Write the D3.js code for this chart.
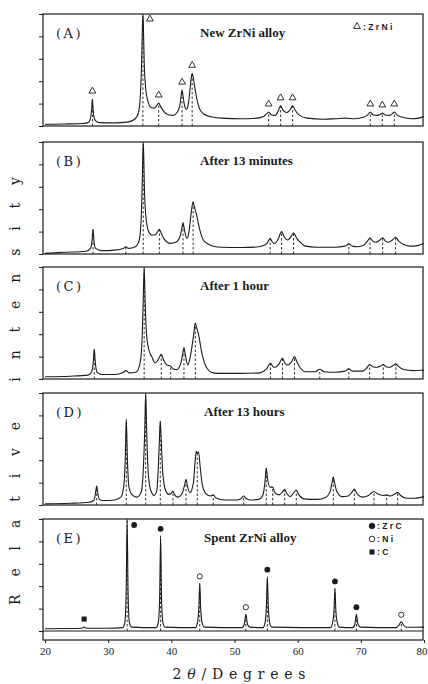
<!DOCTYPE html>
<html>
<head>
<meta charset="utf-8">
<script src="https://cdn.jsdelivr.net/npm/d3@7"></script>
<style>
  body { margin: 0; background: #fff; }
  svg { display: block; }
</style>
</head>
<body>
<div id="container"></div>
<script>
/* DATA (2theta in degrees, intensity in % of panel height) */
const panelLetters = ["(A)", "(B)", "(C)", "(D)", "(E)"];
const panelTitles = ["New ZrNi alloy", "After 13 minutes", "After 1 hour", "After 13 hours", "Spent ZrNi alloy"];
const xTicks = [20, 30, 40, 50, 60, 70, 80];

const profileA = [[20,1.5],[23,1.8],[26,2.2],[26.8,3],[27.1,5],[27.3,10],[27.42,18],[27.5,24],[27.58,18],[27.7,10],[27.95,5],[28.6,3],[31,2.8],[33,3.5],[34.2,6],[34.8,12],[35.1,28],[35.3,58],[35.42,88],[35.5,100],[35.58,88],[35.7,58],[35.9,36],[36.3,22],[36.8,16.5],[37.3,16],[37.7,18.5],[38.0,20.5],[38.3,17.5],[38.8,13],[39.5,10],[40.3,9.5],[40.9,12],[41.3,17],[41.55,27],[41.7,32],[41.85,27],[42.1,18],[42.4,15],[42.7,20],[43.0,35],[43.2,45],[43.3,47],[43.45,44],[43.7,35],[44.0,25],[44.5,15],[45.2,10.5],[46.5,8],[48,7],[51,6.5],[53.5,7],[54.6,8.5],[55.1,11],[55.4,12.5],[55.8,10],[56.4,9.5],[56.9,13],[57.3,18],[57.7,14],[58.3,12],[58.8,14.5],[59.2,18],[59.6,14],[60.3,9.5],[61.5,7],[64,6],[66,6.5],[67.5,7],[69,6.5],[70.5,8],[71.1,10],[71.5,12.5],[71.9,10],[72.6,9.5],[73.1,10.5],[73.4,11.6],[73.8,10],[74.5,9.5],[75.0,11],[75.3,12.5],[75.7,10],[76.5,8],[78,6.5],[79.2,7],[80,8.5]];
const profileB = [[20,0.6],[23,1.5],[26.5,2.5],[27.2,5],[27.45,12],[27.6,22],[27.75,12],[28.0,5],[29,3],[31,3.5],[32.4,5],[32.8,6.5],[33.2,5],[34.3,6.5],[34.9,12],[35.2,28],[35.38,60],[35.48,88],[35.55,100],[35.63,88],[35.73,60],[35.95,35],[36.35,21],[36.9,17],[37.4,17],[37.8,19.5],[38.1,22],[38.4,18.5],[38.9,13],[39.8,9.5],[40.85,11],[41.4,16],[41.7,24],[41.85,28],[42.0,24],[42.3,16],[42.5,14],[42.8,20],[43.15,37],[43.45,46.7],[43.65,42],[43.95,36],[44.4,24],[45.06,12.5],[45.8,9],[46.65,7],[48,6],[51,5.8],[53.5,6.2],[54.6,7.5],[55.2,10],[55.65,14],[56.0,10.5],[56.3,9.5],[56.9,13],[57.45,20],[57.9,15],[58.4,12.5],[58.9,15],[59.35,19],[59.8,14.5],[60.3,11],[61.2,7],[63,6],[66,6],[67.5,7],[68.1,9],[68.7,7],[69.5,6.5],[70.5,8],[71.0,11],[71.45,14.5],[71.9,11.5],[72.4,10.5],[72.9,12],[73.45,14.5],[73.9,11.5],[74.4,10.5],[75.0,12.5],[75.5,15],[76.0,11.5],[76.8,8.5],[77.8,7],[79,7.5],[80,9.5]];
const profileC = [[20,2],[24,2.5],[26.8,3.5],[27.35,6],[27.62,14],[27.8,26.5],[27.98,14],[28.25,6],[29,4],[31,4],[32.3,5.5],[32.8,7.5],[33.3,5.5],[34.4,6],[35.0,13],[35.33,30],[35.55,70],[35.7,100],[35.85,70],[36.05,42],[36.4,27],[36.9,20],[37.4,14.5],[37.9,17],[38.4,22],[38.8,16.5],[39.3,12.5],[39.6,12],[39.9,11.5],[40.3,9],[40.85,8.5],[41.5,14],[41.85,24],[42.0,28],[42.2,22],[42.6,12.5],[43.0,20],[43.5,38],[43.8,50],[44.0,46],[44.3,40],[44.8,24],[45.6,10],[46.6,5.5],[48,5],[51,5],[54,5.5],[55.0,8.5],[55.7,14],[56.1,11],[56.5,10.5],[57.0,13],[57.6,18.5],[58.0,14],[58.5,12.5],[59.0,15],[59.5,20],[59.9,15],[60.4,10],[61.2,6.5],[62.8,6.5],[63.5,8.7],[64.2,6.5],[66,6],[67.5,7],[68.1,9],[68.7,7],[70.3,7],[70.9,9.5],[71.4,13],[71.9,11],[72.6,10.5],[73.1,11.5],[73.55,13],[74.0,11],[74.6,10.5],[75.1,12],[75.55,13.5],[76.0,11],[76.8,8.5],[78.3,7.5],[80,8]];
const profileD = [[20,1],[24,1.5],[27,2.5],[27.7,4],[27.95,9],[28.18,17],[28.4,9],[28.7,4.5],[29.5,4],[31,4.5],[32.0,7],[32.45,16],[32.7,40],[32.87,76.5],[33.05,40],[33.3,16],[33.8,9],[34.5,7],[35.2,11],[35.55,30],[35.78,65],[35.94,100],[36.1,65],[36.35,28],[36.8,12],[37.3,8.5],[37.7,13],[37.95,35],[38.12,60],[38.25,75],[38.4,58],[38.65,28],[39.1,13],[39.6,9.5],[40.0,10.5],[40.26,12.5],[40.5,9.5],[41.0,7],[41.7,10],[42.1,18],[42.32,23],[42.55,17],[42.95,11],[43.5,20],[43.75,38],[43.95,48],[44.12,46],[44.3,47.5],[44.55,35],[44.9,18],[45.5,10],[46.2,8],[46.64,9],[47.0,6.5],[48.5,4.5],[50.5,4.5],[51.1,6],[51.45,8],[51.8,6],[52.5,4.5],[53.8,5],[54.5,9],[54.85,22],[55.03,33],[55.25,23],[55.6,16],[56.05,16],[56.4,11],[57.0,9],[57.6,11.5],[57.94,14],[58.3,10],[58.8,7.5],[59.4,11],[59.78,13.4],[60.2,9],[61,5.5],[63,5],[64.5,7],[65.2,13],[65.5,22],[65.64,25],[65.8,21],[66.2,12],[67.0,7.5],[68.0,8],[68.6,11.5],[68.97,14.3],[69.4,10],[70.3,7],[71.2,8.5],[72.08,12],[72.8,9.5],[73.5,8.5],[74.1,9],[74.6,8],[75.3,9.5],[75.83,11.3],[76.3,8.5],[77.3,6],[78.5,6],[80,7.5]];
const profileE = [[20,2],[24,2.2],[25.8,2.5],[26.2,3.5],[26.6,2.5],[30,2.5],[32.3,3],[32.65,8],[32.85,35],[33.0,100],[33.15,35],[33.35,8],[33.7,3.5],[37.6,3],[37.95,8],[38.15,30],[38.3,85],[38.45,30],[38.65,8],[39.0,3.5],[43.8,3],[44.15,8],[44.35,20],[44.5,42.5],[44.65,20],[44.85,8],[45.2,3.5],[51.2,3],[51.55,6],[51.8,15],[52.05,6],[52.4,3.5],[54.5,3],[54.85,8],[55.05,22],[55.2,48.5],[55.35,22],[55.55,8],[55.9,3.5],[65.2,3],[65.55,8],[65.75,18],[65.9,38],[66.05,18],[66.25,8],[66.6,3.5],[68.7,3],[69.05,6],[69.3,15],[69.55,6],[69.9,3.5],[75.6,3],[76.0,5],[76.4,8.3],[76.8,5],[77.2,3.3],[80,3.5]];

// marked peak positions [2theta, peak height]
const peaksA = [[27.5,24],[35.5,100],[38.0,20.5],[41.7,32],[43.3,47],[55.4,12.5],[57.3,18],[59.2,18],[71.5,12.5],[73.4,11.6],[75.3,12.5]];
const peaksB = [[27.6,22],[32.8,6.5],[35.55,100],[38.1,22],[41.85,28],[43.45,46.7],[55.65,14],[57.45,20],[59.35,19],[68.1,9],[71.45,14.5],[73.45,14.5],[75.5,15]];
const peaksC = [[27.8,26.5],[35.7,100],[38.4,22],[39.9,11.5],[42.0,28],[43.8,50],[55.7,14],[57.6,18.5],[59.5,20],[63.5,8.7],[68.1,9],[71.4,13],[73.55,13],[75.55,13.5]];
const peaksD = [[28.18,17],[32.87,76.5],[35.94,100],[38.25,75],[40.26,12.5],[42.32,23],[44.1,47],[46.64,9],[51.45,8],[55.03,33],[56.05,16],[57.94,14],[59.78,13.4],[65.64,25],[68.97,14.3],[72.08,12],[74.1,9],[75.83,11.3]];
const zrcPeaks = [[33.0,100],[38.3,85],[55.2,48.5],[65.9,38],[69.3,15]];
const niPeaks = [[44.5,42.5],[51.8,15],[76.4,8.3]];
const cPeaks = [[26.2,3.5]];
const peaksE = zrcPeaks.concat(niPeaks);

const profiles = [profileA, profileB, profileC, profileD, profileE];
const peakSets = [peaksA, peaksB, peaksC, peaksD, peaksE];

const legendE = [
  { sym: "zrc", label: ": Z r C" },
  { sym: "ni", label: ": N i" },
  { sym: "c", label: ": C" }
];

/* CONSTANTS */
const width = 428, height = 684;
const panelTops = [14, 142, 267, 393, 519];
const panelH = 112;
const left = 43, right = 423;
const ink = "#1b1b1b";

const svg = d3.select("#container")
  .append("svg")
  .attr("width", width)
  .attr("height", height)
  .style("font-family", "'Liberation Serif', serif");

const xScale = d3.scaleLinear()
  .domain([20, 80])
  .range([45, 424]);

const triangle = d3.symbol(d3.symbolTriangle, 20);
const square = d3.symbol(d3.symbolSquare, 26);

// place marker above a peak; top-hitting peaks get it off to the right
const markerPos = (d, y) => d[1] >= 99
  ? [xScale(d[0]) + 7, y(d[1]) + 5]
  : [xScale(d[0]), y(d[1]) - 8];

profiles.forEach((prof, i) => {
  const top = panelTops[i];
  const bottom = top + panelH;
  const g = svg.append("g");

  const y = d3.scaleLinear()
    .domain([0, 100])
    .range([bottom, top]);

  // frame (E carries the x axis under its zero line)
  const frameH = i === 4 ? panelH + 9 : panelH;
  g.append("rect")
    .attr("x", left)
    .attr("y", top)
    .attr("width", right - left)
    .attr("height", frameH)
    .attr("fill", "none")
    .attr("stroke", ink)
    .attr("stroke-width", 1.2);

  if (i === 4) {
    g.append("line")
      .attr("x1", left).attr("x2", right)
      .attr("y1", bottom).attr("y2", bottom)
      .attr("stroke", ink)
      .attr("stroke-width", 1.1);
  }

  // left ticks
  const yAxis = g.append("g")
    .attr("transform", `translate(${left},0)`)
    .call(d3.axisLeft(y).tickValues([0, 20, 40, 60, 80, 100]).tickSize(4).tickFormat(""));
  yAxis.select(".domain").remove();
  yAxis.selectAll("line").attr("stroke", ink);

  // dashed peak lines
  g.selectAll(".peakline")
    .data(peakSets[i])
    .join("line")
    .attr("class", "peakline")
    .attr("x1", d => xScale(d[0]))
    .attr("x2", d => xScale(d[0]))
    .attr("y1", bottom)
    .attr("y2", d => y(d[1]))
    .attr("stroke", ink)
    .attr("stroke-width", 0.9)
    .attr("stroke-dasharray", "2.5,2");

  // pattern
  g.append("path")
    .datum(prof)
    .attr("fill", "none")
    .attr("stroke", ink)
    .attr("stroke-width", 1.1)
    .attr("stroke-linejoin", "round")
    .attr("d", d3.line()
      .x(d => xScale(d[0]))
      .y(d => y(d[1]))
      .curve(d3.curveMonotoneX));

  // panel letter + title
  g.append("text")
    .attr("x", 56)
    .attr("y", top + 24)
    .attr("font-family", "'DejaVu Serif', serif")
    .attr("font-size", 13)
    .attr("letter-spacing", 2.5)
    .attr("fill", ink)
    .text(panelLetters[i]);

  g.append("text")
    .attr("x", i < 3 ? 200 : 204)
    .attr("y", top + 23)
    .attr("font-size", 13)
    .attr("font-weight", "bold")
    .attr("fill", ink)
    .text(panelTitles[i]);

  if (i === 0) {
    g.selectAll(".tri")
      .data(peaksA)
      .join("path")
      .attr("class", "tri")
      .attr("d", triangle)
      .attr("transform", d => `translate(${markerPos(d, y)})`)
      .attr("fill", "none")
      .attr("stroke", ink)
      .attr("stroke-width", 0.9);

    g.append("path")
      .attr("d", triangle)
      .attr("transform", "translate(357,26.5)")
      .attr("fill", "none")
      .attr("stroke", ink)
      .attr("stroke-width", 0.9);
    g.append("text")
      .attr("x", 363)
      .attr("y", 30)
      .attr("font-family", "'Liberation Sans', sans-serif")
      .attr("font-size", 8.5)
      .attr("font-weight", "bold")
      .attr("fill", ink)
      .text(": Z r N i");
  }

  if (i === 4) {
    g.selectAll(".zrc")
      .data(zrcPeaks)
      .join("circle")
      .attr("class", "zrc")
      .attr("cx", d => markerPos(d, y)[0])
      .attr("cy", d => markerPos(d, y)[1] + 1)
      .attr("r", 2.9)
      .attr("fill", ink);

    g.selectAll(".ni")
      .data(niPeaks)
      .join("circle")
      .attr("class", "ni")
      .attr("cx", d => markerPos(d, y)[0])
      .attr("cy", d => markerPos(d, y)[1] + 1)
      .attr("r", 2.6)
      .attr("fill", "#fff")
      .attr("stroke", ink)
      .attr("stroke-width", 0.9);

    g.selectAll(".csq")
      .data(cPeaks)
      .join("path")
      .attr("class", "csq")
      .attr("d", square)
      .attr("transform", d => `translate(${xScale(d[0])},${y(d[1]) - 8})`)
      .attr("fill", ink);

    // legend
    const leg = g.selectAll(".leg")
      .data(legendE)
      .join("g")
      .attr("class", "leg")
      .attr("transform", (d, j) => `translate(372,${526 + j * 13})`);
    leg.each(function (d) {
      const s = d3.select(this);
      if (d.sym === "c") {
        s.append("path").attr("d", square).attr("fill", ink);
      } else {
        s.append("circle")
          .attr("r", 2.8)
          .attr("fill", d.sym === "zrc" ? ink : "#fff")
          .attr("stroke", ink)
          .attr("stroke-width", 0.9);
      }
    });
    leg.append("text")
      .attr("x", 5)
      .attr("y", 3.3)
      .attr("font-family", "'Liberation Sans', sans-serif")
      .attr("font-size", 8.5)
      .attr("font-weight", "bold")
      .attr("fill", ink)
      .text(d => d.label);

    // x axis
    const xAxis = g.append("g")
      .attr("transform", `translate(0,${bottom + 9})`)
      .call(d3.axisBottom(xScale).tickValues(xTicks).tickSize(3).tickPadding(4));
    xAxis.select(".domain").remove();
    xAxis.selectAll("line").attr("stroke", ink);
    xAxis.selectAll("text")
      .attr("font-family", "'Liberation Serif', serif")
      .attr("font-size", 11)
      .attr("fill", ink);
    // keep the last label inside the page edge
    xAxis.selectAll(".tick")
      .filter(d => d === 80)
      .select("text")
      .attr("text-anchor", "end")
      .attr("dx", 3);
  }
});

/* AXIS TITLES */
svg.append("text")
  .attr("transform", "translate(20,391) rotate(-90)")
  .attr("text-anchor", "middle")
  .attr("font-family", "'DejaVu Serif', serif")
  .attr("font-size", 14)
  .attr("textLength", 428)
  .attr("lengthAdjust", "spacing")
  .attr("fill", ink)
  .text("Relative intensity");

const xt = svg.append("text")
  .attr("x", 239)
  .attr("y", 679)
  .attr("text-anchor", "middle")
  .attr("font-family", "'DejaVu Serif', serif")
  .attr("font-size", 14)
  .attr("textLength", 133)
  .attr("lengthAdjust", "spacing")
  .attr("fill", ink);
xt.append("tspan").text("2");
xt.append("tspan").attr("font-style", "italic").text("θ");
xt.append("tspan").text("/Degrees");
</script>
</body>
</html>
